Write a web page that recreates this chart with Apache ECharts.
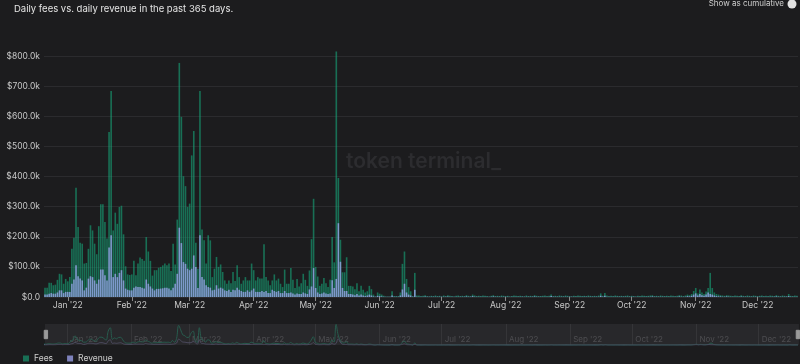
<!DOCTYPE html>
<html><head><meta charset="utf-8">
<script src="https://cdn.jsdelivr.net/npm/echarts@6/dist/echarts.min.js"></script>
<style>html,body{margin:0;padding:0;background:#1c1c1e;}#c{width:800px;height:364px;}</style>
</head><body><div id="c"></div>
<script>
const startDate = [2021, 11, 21]; // Dec 21 2021, 365 daily categories
const monthNames = ['Jan','Feb','Mar','Apr','May','Jun','Jul','Aug','Sep','Oct','Nov','Dec'];
const yTicks = [0,100,200,300,400,500,600,700,800]; // $k
// Daily fees, $k
const fees = [
31,31,47,47,39,41,57,77,75,44,
60,52,66,160,197,363,232,180,177,111,
113,160,238,221,177,142,235,308,308,249,
194,548,684,221,280,243,299,303,208,102,
75,73,75,120,72,111,131,126,120,199,
151,120,71,89,89,97,100,105,111,105,
111,86,177,108,257,777,598,401,368,299,
310,470,551,180,94,684,224,188,111,205,
188,66,94,133,100,108,83,55,44,55,
46,83,53,105,66,44,55,66,55,55,
111,89,55,66,61,61,175,66,55,39,
55,75,55,61,44,33,91,44,44,96,
57,30,60,35,46,77,57,37,88,192,
326,100,68,37,44,63,46,33,57,199,
115,815,395,190,82,82,132,37,37,35,
26,46,19,37,24,15,19,37,26,8,
2,15,11,8,4,2,2,2,19,3,
3,3,15,110,151,60,33,19,3,80,
5,5,3,4,6,3,2,4,3,5,
3,4,2,5,3,6,4,3,2,4,
5,3,4,3,6,4,3,8,5,3,
4,3,5,4,3,2,4,6,3,4,
3,5,4,3,4,2,3,5,4,3,
4,3,2,5,3,4,3,6,4,3,
3,4,5,3,4,8,3,4,3,5,
4,3,5,4,3,2,4,3,5,4,
3,4,3,5,4,3,4,3,5,12,
4,13,5,3,4,3,5,4,3,4,
3,4,5,3,4,3,2,4,3,5,
4,3,4,5,6,3,4,3,5,4,
3,4,3,5,4,3,4,6,5,3,
5,8,6,10,20,30,12,25,15,10,
18,30,80,30,15,10,8,6,5,4,
6,5,4,3,5,4,3,6,4,3,
5,4,3,5,4,3,4,5,3,4,
3,5,4,3,6,4,3,5,4,3,
10,4,3,5,4
];
// Daily revenue, $k
const revenue = [
8,8,11,13,11,11,15,22,22,13,
17,17,17,44,58,105,69,61,55,22,
31,61,69,66,55,44,58,91,91,72,
55,164,205,66,77,66,80,89,55,28,
24,22,22,31,35,33,33,31,28,58,
44,35,28,22,27,27,28,29,31,31,
28,22,31,44,77,230,179,116,110,94,
89,94,138,100,30,205,66,58,39,33,
31,22,24,39,28,31,28,22,20,24,
17,24,22,31,24,20,17,17,22,17,
22,28,17,17,17,20,17,20,13,13,
24,20,17,20,13,13,20,13,13,15,
12,8,12,10,10,15,12,10,25,35,
96,30,15,10,12,15,12,10,12,56,
30,60,245,117,30,20,20,10,10,8,
6,10,5,8,5,3,5,8,5,2,
1,4,3,2,1,1,1,1,5,1,
1,1,5,25,44,15,8,5,1,24,
1,1,1,1,2,1,1,1,1,1,
1,1,1,1,1,2,1,1,1,1,
1,1,1,1,2,1,1,3,1,1,
1,1,1,1,1,1,1,2,1,1,
1,1,1,1,1,1,1,1,1,1,
1,1,1,1,1,1,1,2,1,1,
1,1,1,1,1,3,1,1,1,1,
1,1,1,1,1,1,1,1,1,1,
1,1,1,1,1,1,1,1,1,4,
1,4,1,1,1,1,1,1,1,1,
1,1,1,1,1,1,1,1,1,1,
1,1,1,1,2,1,1,1,1,1,
1,1,1,1,1,1,1,2,1,1,
1,3,2,4,8,12,5,10,6,4,
8,15,10,8,5,3,2,2,1,1,
2,1,1,1,1,1,1,2,1,1,
1,1,1,1,1,1,1,1,1,1,
1,1,1,1,2,1,1,1,1,1,
3,1,1,1,1
];

function pad(n){return n<10?'0'+n:''+n;}
const days = [];
for (let i = 0; i < fees.length; i++) {
  const d = new Date(startDate[0], startDate[1], startDate[2] + i);
  days.push(d.getFullYear() + '-' + pad(d.getMonth()+1) + '-' + pad(d.getDate()));
}
const isMonthStart = (idx, val) => val.slice(8) === '01';
const monthLabel = (val) => {
  if (val.slice(8) !== '01') return '';
  return monthNames[parseInt(val.slice(5,7),10)-1] + " '" + val.slice(2,4);
};
const FONT = 'Inter, "Noto Sans", sans-serif';

const chart = echarts.init(document.getElementById('c'), null, {renderer: 'canvas'});
chart.setOption({
  backgroundColor: '#1c1c1e',
  animation: false,
  textStyle: {fontFamily: FONT},
  title: {
    text: 'Daily fees vs. daily revenue in the past 365 days.',
    left: 9, top: -1,
    textStyle: {color: '#e4e4e4', fontSize: 9.5, fontWeight: 'normal', fontFamily: FONT}
  },
  graphic: [
    {type: 'text', x: 784, y: 4, style: {text: 'Show as cumulative', fill: '#cfcfcf', fontSize: 8, fontFamily: FONT, align: 'right', verticalAlign: 'middle'}},
    {type: 'circle', shape: {cx: 792, cy: 4, r: 4.5}, style: {fill: '#e2e2e2'}},
    {type: 'text', left: 346, top: 151, z: 0, style: {text: 'token terminal_', fill: '#2c2c2f', fontSize: 21, fontWeight: 600, fontFamily: FONT}}
  ],
  legend: {
    left: 18, top: 349, icon: 'rect', itemWidth: 6, itemHeight: 6, itemGap: 14,
    textStyle: {color: '#cfcfcf', fontSize: 8.5, fontFamily: FONT},
    data: ['Fees', 'Revenue']
  },
  grid: [
    {left: 44, right: 2, top: 56, bottom: 67},
    {left: 44, right: 2, top: 324, height: 21}
  ],
  xAxis: [
    {
      type: 'category', data: days, gridIndex: 0,
      axisLine: {show: false},
      axisTick: {show: true, alignWithLabel: true, interval: isMonthStart, length: 4, lineStyle: {color: '#8a8a8a'}},
      axisLabel: {interval: isMonthStart, formatter: monthLabel, color: '#c8c8c8', fontSize: 8.5, margin: 4, fontFamily: FONT},
      splitLine: {show: false}
    },
    {
      type: 'category', data: days, gridIndex: 1, boundaryGap: false,
      axisLine: {show: false}, axisTick: {show: false},
      axisLabel: {inside: true, interval: isMonthStart, formatter: monthLabel, color: '#6e6e72', fontSize: 8, align: 'left', margin: 1, padding: [0,0,0,3], fontFamily: FONT},
      splitLine: {show: true, interval: isMonthStart, lineStyle: {color: '#38383c', width: 1}}
    }
  ],
  yAxis: [
    {
      type: 'value', gridIndex: 0, min: 0, max: 800, interval: 100,
      axisLine: {show: false}, axisTick: {show: false},
      axisLabel: {color: '#c8c8c8', fontSize: 8.5, margin: 4, fontFamily: FONT,
        formatter: v => v === 0 ? '$0.0' : '$' + v.toFixed(1) + 'k'},
      splitLine: {lineStyle: {color: '#2b2b2e', width: 1}}
    },
    {type: 'value', gridIndex: 1, min: 0, max: 830, show: false, splitLine: {show: false}}
  ],
  dataZoom: [{
    type: 'slider', xAxisIndex: 0, start: 0, end: 100,
    left: 44, right: 2, top: 324, height: 21,
    showDataShadow: false, showDetail: false, brushSelect: false,
    moveHandleSize: 0,
    backgroundColor: 'rgba(44,44,48,0.55)',
    fillerColor: 'rgba(255,255,255,0.02)',
    borderColor: 'transparent',
    handleIcon: 'path://M0,0 h4 v10 h-4 z',
    handleSize: '40%',
    handleStyle: {color: '#9a9a9a', borderColor: '#9a9a9a'},
    emphasis: {handleStyle: {color: '#9a9a9a'}}
  }],
  series: [
    {
      name: 'Fees', type: 'bar', xAxisIndex: 0, yAxisIndex: 0, data: fees,
      barCategoryGap: '22%', barGap: '-100%', clip: false, large: false,
      itemStyle: {color: 'rgba(22,163,120,0.62)'}
    },
    {
      name: 'Revenue', type: 'bar', xAxisIndex: 0, yAxisIndex: 0, data: revenue,
      barCategoryGap: '22%', barGap: '-100%', clip: false, large: false,
      itemStyle: {color: 'rgba(165,170,250,0.72)'}
    },
    {
      name: 'FeesShadow', type: 'line', xAxisIndex: 1, yAxisIndex: 1, data: fees,
      smooth: 0.4, showSymbol: false, silent: true,
      lineStyle: {color: '#1a8f6c', width: 1}
    },
    {
      name: 'RevenueShadow', type: 'line', xAxisIndex: 1, yAxisIndex: 1, data: revenue,
      smooth: 0.4, showSymbol: false, silent: true,
      lineStyle: {color: '#6d6a93', width: 1}
    }
  ],
  color: ['#13a37d', '#a796f6']
});
</script></body></html>
